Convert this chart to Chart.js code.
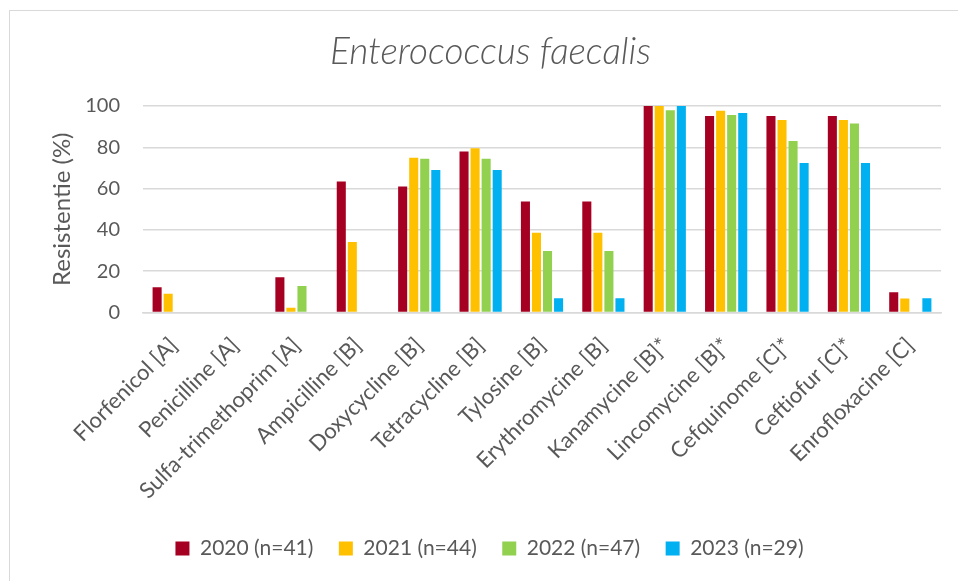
<!DOCTYPE html>
<html>
<head>
<meta charset="utf-8">
<script src="https://cdn.jsdelivr.net/npm/chart.js@4"></script>
<style>
  body { margin: 0; background: #fff; }
  #frame {
    position: absolute; left: 9px; top: 10px;
    width: 949px; height: 571px;
    border-left: 1px solid #d9d9d9; border-top: 1px solid #d9d9d9;
  }
  #chart { display: block; }
</style>
</head>
<body>
<div id="frame"><canvas id="chart" width="948" height="570"></canvas></div>
<script>
const categories = [
    'Florfenicol [A]', 'Penicilline [A]', 'Sulfa-trimethoprim [A]', 'Ampicilline [B]',
    'Doxycycline [B]', 'Tetracycline [B]', 'Tylosine [B]', 'Erythromycine [B]',
    'Kanamycine [B]*', 'Lincomycine [B]*', 'Cefquinome [C]*', 'Ceftiofur [C]*', 'Enrofloxacine [C]'
];
const values2020 = [12.2, 0, 17.1, 63.4, 61.0, 78.0, 53.7, 53.7, 100, 95.1, 95.1, 95.1, 9.8];
const values2021 = [9.1, 0, 2.3, 34.1, 75.0, 79.5, 38.6, 38.6, 100, 97.7, 93.2, 93.2, 6.8];
const values2022 = [0, 0, 12.8, 0, 74.5, 74.5, 29.8, 29.8, 97.9, 95.7, 83.0, 91.5, 0];
const values2023 = [0, 0, 0, 0, 69.0, 69.0, 6.9, 6.9, 100, 96.6, 72.4, 72.4, 6.9];
const yTicks = [0, 20, 40, 60, 80, 100];

const textColor = '#595959';
const fontFamily = 'Lato, "Open Sans", sans-serif';

function series(label, data, color) {
    return {
        label: label,
        data: data,
        backgroundColor: color,
        borderWidth: 0,
        categoryPercentage: 0.72,
        barPercentage: 0.82
    };
}

// small nudge so the legend row lines up with the original
const shiftLegend = {
    id: 'shiftLegend',
    afterLayout(chart) {
        chart.legend.left -= 1;
        chart.legend.right -= 1;
    }
};

new Chart(document.getElementById('chart').getContext('2d'), {
    type: 'bar',
    data: {
        labels: categories,
        datasets: [
            series('2020 (n=41)', values2020, '#A50021'),
            series('2021 (n=44)', values2021, '#FFC000'),
            series('2022 (n=47)', values2022, '#92D050'),
            series('2023 (n=29)', values2023, '#00B0F0')
        ]
    },
    plugins: [shiftLegend],
    options: {
        responsive: false,
        animation: false,
        layout: { padding: { left: 30, right: 17, top: 0, bottom: 12 } },
        plugins: {
            title: {
                display: true,
                text: 'Enterococcus faecalis',
                color: textColor,
                font: { family: fontFamily, size: 37, style: 'italic', weight: 300 },
                padding: { top: 19, bottom: 31.6 }
            },
            legend: {
                position: 'bottom',
                labels: {
                    color: textColor,
                    font: { family: fontFamily, size: 21 },
                    boxWidth: 14,
                    boxHeight: 14,
                    padding: 25.5
                }
            },
            tooltip: { enabled: false }
        },
        scales: {
            x: {
                grid: { display: false },
                border: { color: '#d9d9d9', width: 1.5 },
                ticks: {
                    color: textColor,
                    font: { family: fontFamily, size: 22 },
                    minRotation: 45,
                    maxRotation: 45,
                    autoSkip: false,
                    padding: 12
                },
                afterFit: function (scale) { scale.height = 200; }
            },
            y: {
                min: 0,
                max: 100,
                afterBuildTicks: function (scale) {
                    scale.ticks = yTicks.map(v => ({ value: v }));
                },
                grid: { color: '#d9d9d9', lineWidth: 1.5, drawTicks: false },
                border: { display: false },
                ticks: {
                    color: textColor,
                    font: { family: fontFamily, size: 20 },
                    padding: 23
                },
                title: {
                    display: true,
                    text: 'Resistentie (%)',
                    color: textColor,
                    font: { family: fontFamily, size: 24 },
                    padding: { top: 8, bottom: 0 }
                },
                afterFit: function (scale) { scale.width = 103; }
            }
        }
    }
});
</script>
</body>
</html>
